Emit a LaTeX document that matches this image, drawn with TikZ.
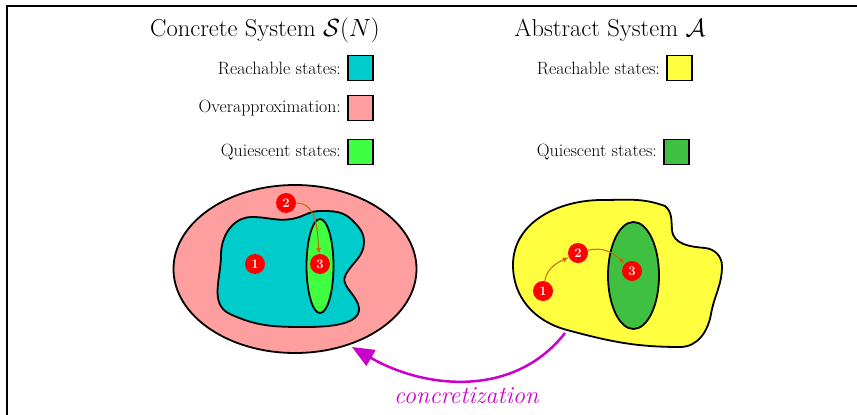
\documentclass[tikz,border=0pt]{standalone}
\usepackage{amsmath}
\usepackage{amssymb}
\usepackage{tikz}
\usepackage{xcolor}
\usetikzlibrary{arrows.meta, positioning}
\definecolor{cReach}{RGB}{0,204,204}
\definecolor{cOver}{RGB}{255,158,158}
\definecolor{cQuies}{RGB}{64,255,64}
\definecolor{cAbsReach}{RGB}{255,255,64}
\definecolor{cAbsQuies}{RGB}{64,192,64}
\definecolor{cTrans}{RGB}{204,102,0}
\definecolor{cConcr}{RGB}{204,0,204}
\tikzset{
	title/.style    ={font=\fontsize{24.5}{29}\selectfont},
	legbox/.style   ={rectangle, draw=black, line width=1.8pt, minimum size=25pt, inner sep=0pt},
	leglabel/.style ={font=\fontsize{17.8}{21}\selectfont, inner sep=0pt},
	region/.style   ={draw=black, line width=1.8pt},
	state/.style    ={circle, fill=red, text=white, font=\fontsize{13}{14}\selectfont\bfseries, minimum size=20pt, inner sep=0pt},
	trans/.style    ={-{Latex[length=6pt,width=5pt]}, draw=cTrans, line width=1pt},
	concr/.style    ={-{Triangle[length=22pt,width=18pt]}, draw=cConcr, line width=2.5pt},
}

\begin{document}
\begin{tikzpicture}[x=1pt, y=1pt]
	\useasboundingbox (0,0) rectangle (857,-415);
	% ---------- frame ----------
	\draw[line width=1.5pt] (7,-415) -- (7,-6) -- (857,-6);
	% ---------- titles ----------
	\node[title] (tConc) at (265,-30) {Concrete System $\mathcal{S}(N)$};
	\node[title] (tAbs) at (610,-30) {Abstract System $\mathcal{A}$};
	% ---------- legend, concrete ----------
	\node[legbox, fill=cReach] (cReachBox) at (360.5,-68) {};
	\node[legbox, fill=cOver] (cOverBox) at (360.5,-108) {};
	\node[legbox, fill=cQuies] (cQuiesBox) at (360.5,-152) {};
	\node[leglabel, left=6pt of cReachBox] {Reachable states:};
	\node[leglabel, left=6pt of cOverBox] {Overapproximation:};
	\node[leglabel, left=6pt of cQuiesBox] {Quiescent states:};
	% ---------- legend, abstract ----------
	\node[legbox, fill=cAbsReach] (aReachBox) at (679.5,-68) {};
	\node[legbox, fill=cAbsQuies] (aQuiesBox) at (676.5,-152) {};
	\node[leglabel, left=6pt of aReachBox] {Reachable states:};
	\node[leglabel, left=6pt of aQuiesBox] {Quiescent states:};
	% ---------- concrete system ----------
	\draw[region, fill=cOver] (295,-269) ellipse [x radius=121.5pt, y radius=84pt];
	\draw[region, fill=cReach] (221,-255) to[out=90, in=180] (252,-217)
		to[out=0, in=195] (296,-218) to[out=15, in=180] (320,-211)
		to[out=0, in=135] (352,-220) to[out=-45, in=90] (364,-242)
		to[out=-90, in=60] (346,-274) to[out=240, in=110] (358,-304)
		to[out=-70, in=0] (305,-327) to[out=180, in=-25] (230,-314)
		to[out=155, in=-90] cycle;
	\draw[region, fill=cQuies] (320,-266) ellipse [x radius=13.5pt, y radius=47pt];
	\node[state] (c1) at (255,-264) {1};
	\node[state] (c2) at (286,-203) {2};
	\node[state] (c3) at (320,-264) {3};
	\draw[trans] (c2) to[out=0, in=95] (c3);
	% ---------- abstract system ----------
	\draw[region, fill=cAbsReach] (513,-265) to[out=90, in=180] (602,-200)
		to[out=0, in=160] (665,-206) to[out=-40, in=95] (672,-230)
		to[out=-85, in=175] (705,-248) to[out=-5, in=90] (722,-266)
		to[out=-90, in=80] (711,-314) to[out=-100, in=0] (680,-347)
		to[out=180, in=-15] (567,-330) to[out=165, in=-90] cycle;
	\draw[region, fill=cAbsQuies] (633.5,-275.5) ellipse [x radius=25.5pt, y radius=53.5pt];
	\node[state] (a1) at (543,-291) {1};
	\node[state] (a2) at (578,-253) {2};
	\node[state] (a3) at (632,-271) {3};
	\draw[trans] (a1) to[out=80, in=205] (a2);
	\draw[trans] (a2) to[out=15, in=135] (a3);
	% ---------- concretization ----------
	\coordinate (concrStart) at (565,-333);
	\coordinate (concrEnd) at (352,-347);
	\draw[concr] (concrStart) to[out=232, in=-30] node[below=3pt, text=cConcr, font=\fontsize{24.4}{29}\selectfont\itshape] (concrLabel) {concretization} (concrEnd);
\end{tikzpicture}
\end{document}
